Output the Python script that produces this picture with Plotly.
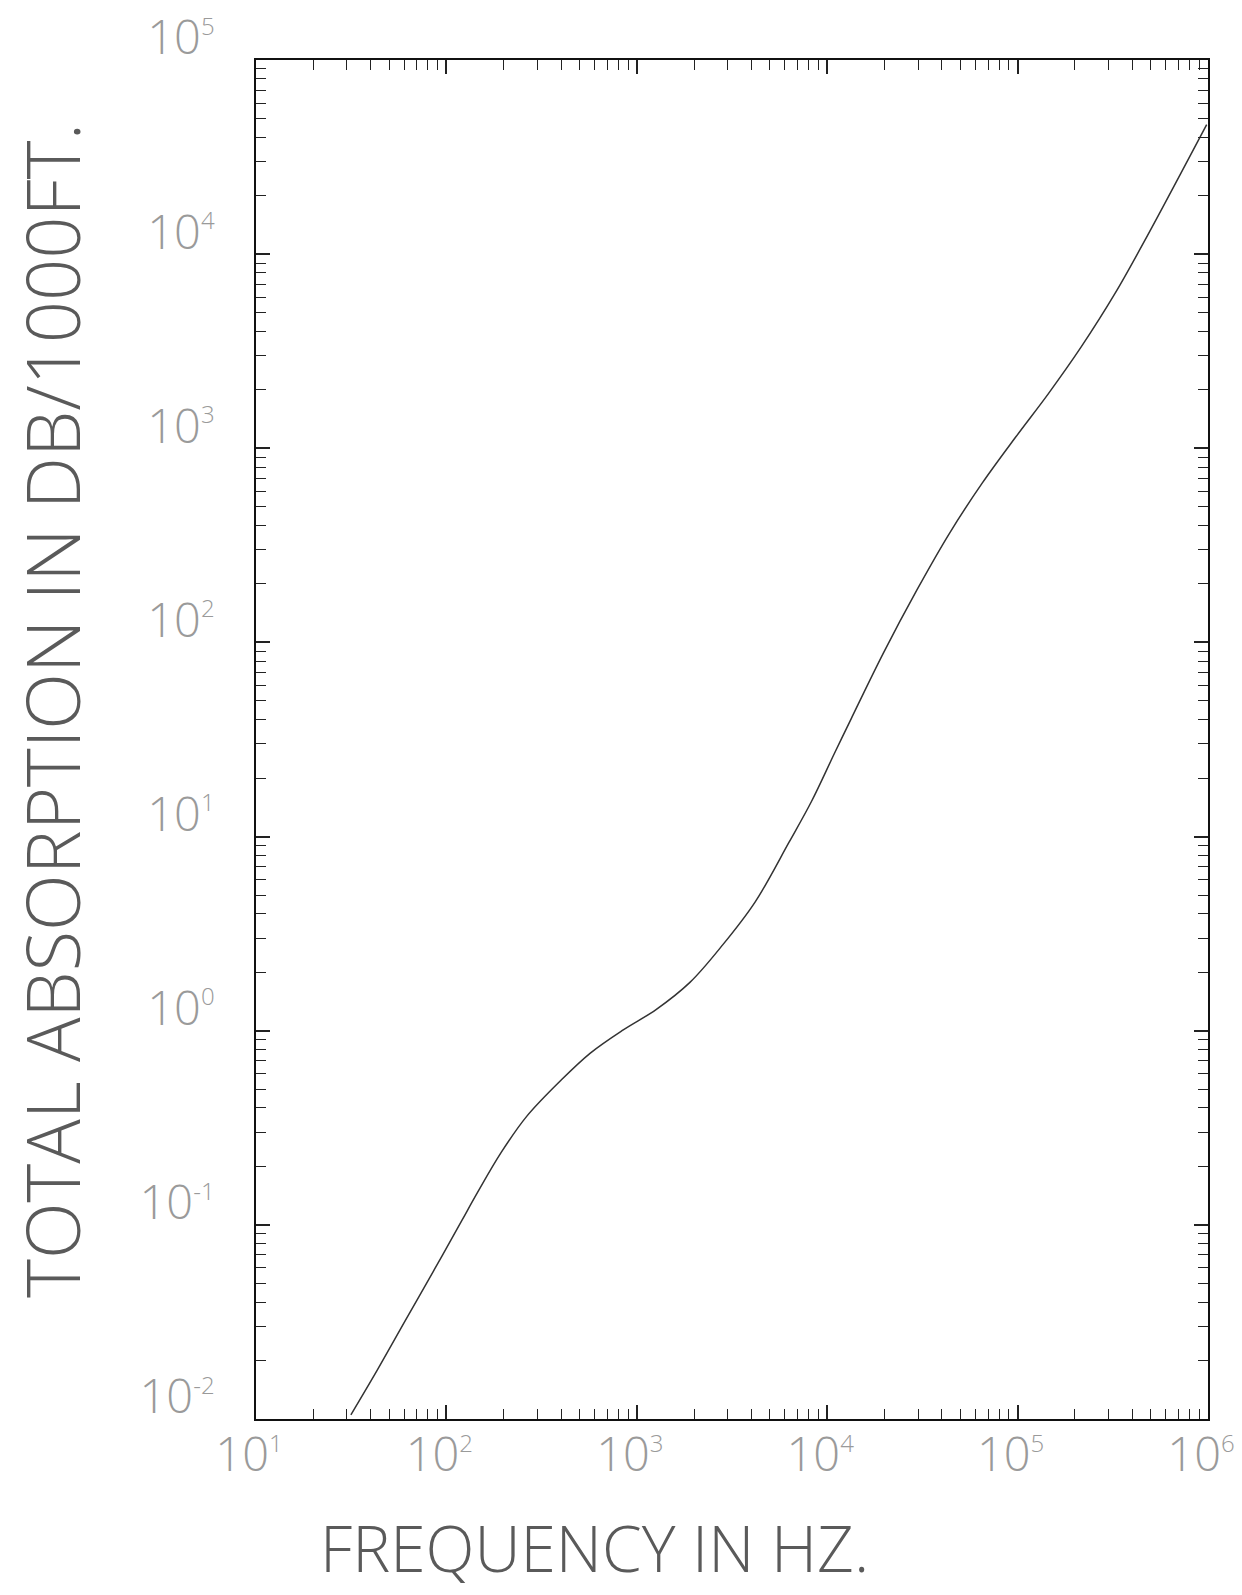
import plotly.graph_objects as go

# Data (frequency in Hz, absorption in dB/1000 ft)
freq_hz = [31.5, 43.4, 60.8, 87.1, 120, 145, 194, 264, 397, 570, 849, 1262, 1901,
           2825, 4188, 6295, 8279, 10890, 13340, 19720, 29650, 43950, 65160, 97950,
           145500, 215800, 324300, 480800, 712900, 984000]
absorption_db = [0.0105, 0.0179, 0.0321, 0.0596, 0.1045, 0.1456, 0.236, 0.362, 0.552,
                 0.767, 1.01, 1.285, 1.774, 2.767, 4.613, 9.33, 15.2, 26.7, 40.3, 88.1,
                 187, 366, 661, 1146, 1919, 3327, 6252, 12450, 25590, 46450]

x_tick_vals = [1e1, 1e2, 1e3, 1e4, 1e5, 1e6]
x_exponents = ["1", "2", "3", "4", "5", "6"]
y_tick_vals = [1e-2, 1e-1, 1e0, 1e1, 1e2, 1e3, 1e4, 1e5]
y_exponents = ["-2", "-1", "0", "1", "2", "3", "4", "5"]

x_title = "FREQUENCY IN HZ."
y_title = "TOTAL ABSORPTION IN DB/1000FT."

FONT = "Open Sans"


def tick_text(exps):
    return ["10<sup><span style='font-size:24px'>%s</span></sup>" % e for e in exps]


fig = go.Figure()
fig.add_trace(go.Scatter(
    x=freq_hz, y=absorption_db, mode="lines",
    line=dict(color="#333333", width=1.5, shape="spline", smoothing=1.0),
    hoverinfo="skip", showlegend=False,
))

axis_common = dict(
    type="log",
    automargin=False,
    showgrid=False,
    zeroline=False,
    showline=True,
    linecolor="#111111",
    linewidth=2,
    mirror="allticks",
    ticks="inside",
    ticklen=14,
    tickwidth=1.5,
    tickcolor="#222222",
    ticklabeloverflow="allow",
    tickfont=dict(family=FONT, size=47, color="#9a9a9a", weight=300),
    minor=dict(ticks="inside", ticklen=10, tickwidth=1.2, tickcolor="#222222",
               dtick="D1", showgrid=False),
)

fig.update_xaxes(range=[1, 6], tickvals=x_tick_vals, ticktext=tick_text(x_exponents),
                 ticklabelstandoff=-6, ticklabelshift=-7, **axis_common)
fig.update_yaxes(range=[-2, 5], tickvals=y_tick_vals, ticktext=tick_text(y_exponents),
                 ticklabelstandoff=30, ticklabelshift=-22, **axis_common)

fig.add_annotation(text=x_title, xref="paper", yref="paper", x=0.356, y=-0.0942,
                   xanchor="center", yanchor="middle", showarrow=False,
                   font=dict(family=FONT, size=64, color="#5a5a5a", weight=300))
fig.add_annotation(text=y_title, xref="paper", yref="paper", x=-0.2155, y=0.5217,
                   xanchor="center", yanchor="middle", showarrow=False, textangle=-90,
                   font=dict(family=FONT, size=74, color="#5a5a5a", weight=300))

fig.update_layout(
    width=1242, height=1595,
    margin=dict(l=256, r=34, t=60, b=176, pad=0),
    paper_bgcolor="white", plot_bgcolor="white",
)

fig.write_html("out.html", config={"displayModeBar": False},
               post_script="document.body.style.margin='0';")
